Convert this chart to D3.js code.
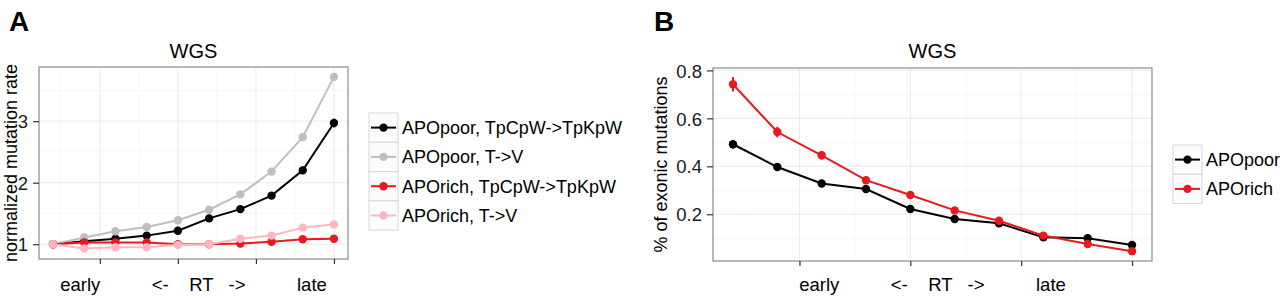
<!DOCTYPE html>
<html>
<head>
<meta charset="utf-8">
<script src="https://cdn.jsdelivr.net/npm/d3@7"></script>
<style>
  body { margin: 0; background: #fff; }
  svg { font-family: "Liberation Sans", Arial, Helvetica, sans-serif; }
</style>
</head>
<body>
<svg id="chart" width="1280" height="298"></svg>
<script>
// replication timing bins, early (1) -> late (10)
const rtBins = [1, 2, 3, 4, 5, 6, 7, 8, 9, 10];

// panel A: normalized mutation rate
const poorTpc = [1.00, 1.05, 1.09, 1.14, 1.22, 1.42, 1.57, 1.79, 2.20, 2.97];
const poorTpcErr = [0.01, 0.02, 0.02, 0.02, 0.03, 0.04, 0.04, 0.05, 0.06, 0.07];
const poorTV = [1.00, 1.11, 1.21, 1.28, 1.39, 1.56, 1.81, 2.18, 2.74, 3.72];
const poorTVErr = [0.01, 0.01, 0.01, 0.01, 0.01, 0.01, 0.02, 0.02, 0.02, 0.03];
const richTpc = [1.00, 1.03, 1.03, 1.03, 1.00, 1.00, 1.01, 1.04, 1.08, 1.09];
const richTpcErr = [0.01, 0.02, 0.02, 0.02, 0.02, 0.02, 0.02, 0.02, 0.02, 0.03];
const richTV = [1.00, 0.93, 0.95, 0.95, 0.99, 1.00, 1.09, 1.14, 1.27, 1.32];
const richTVErr = [0.01, 0.01, 0.01, 0.01, 0.01, 0.01, 0.01, 0.01, 0.02, 0.02];
const seriesA = ["APOpoor, TpCpW->TpKpW", "APOpoor, T->V", "APOrich, TpCpW->TpKpW", "APOrich, T->V"];
const yTicksA = [1, 2, 3];

// panel B: % of exonic mutations
const exPoor = [0.492, 0.397, 0.328, 0.305, 0.222, 0.180, 0.162, 0.104, 0.100, 0.072];
const exPoorErr = [0.018, 0.012, 0.010, 0.010, 0.009, 0.008, 0.008, 0.007, 0.007, 0.006];
const exRich = [0.742, 0.543, 0.446, 0.342, 0.280, 0.216, 0.173, 0.111, 0.076, 0.046];
const exRichErr = [0.030, 0.022, 0.018, 0.014, 0.010, 0.009, 0.008, 0.007, 0.006, 0.005];
const seriesB = ["APOpoor", "APOrich"];
const yTicksB = [0.2, 0.4, 0.6, 0.8];

const xTicks = [2.5, 5, 7.5, 10];
const xTitle = "early          <-    RT   ->          late";

const svg = d3.select("#chart");
const colors = { black: "#000000", grey: "#bebebe", red: "#e8191f", pink: "#ffb6c1" };

function drawPanel(cfg) {
  const x = d3.scaleLinear().domain([0.55, 10.45]).range([cfg.left, cfg.right]);
  const y = d3.scaleLinear().domain(cfg.yDomain).range([cfg.bottom, cfg.top]);
  const g = svg.append("g");

  // grid
  const minorX = xTicks.map(d => d - 1.25);
  const minorY = cfg.yMinor;
  g.selectAll(".mx").data(minorX).enter().append("line")
    .attr("x1", d => x(d)).attr("x2", d => x(d)).attr("y1", cfg.top).attr("y2", cfg.bottom)
    .attr("stroke", "#f7f7f7").attr("stroke-width", 1);
  g.selectAll(".my").data(minorY).enter().append("line")
    .attr("x1", cfg.left).attr("x2", cfg.right).attr("y1", d => y(d)).attr("y2", d => y(d))
    .attr("stroke", "#f7f7f7").attr("stroke-width", 1);
  g.selectAll(".gx").data(xTicks).enter().append("line")
    .attr("x1", d => x(d)).attr("x2", d => x(d)).attr("y1", cfg.top).attr("y2", cfg.bottom)
    .attr("stroke", "#ebebeb").attr("stroke-width", 1);
  g.selectAll(".gy").data(cfg.yTicks).enter().append("line")
    .attr("x1", cfg.left).attr("x2", cfg.right).attr("y1", d => y(d)).attr("y2", d => y(d))
    .attr("stroke", "#ebebeb").attr("stroke-width", 1);

  // series
  cfg.series.forEach(s => {
    const pts = rtBins.map((b, i) => ({ b: b, v: s.values[i], e: s.err[i] }));
    g.append("path").datum(pts)
      .attr("fill", "none").attr("stroke", s.color).attr("stroke-width", 2)
      .attr("d", d3.line().x(d => x(d.b)).y(d => y(d.v)));
    g.selectAll(null).data(pts).enter().append("line")
      .attr("x1", d => x(d.b)).attr("x2", d => x(d.b))
      .attr("y1", d => y(d.v - d.e)).attr("y2", d => y(d.v + d.e))
      .attr("stroke", s.color).attr("stroke-width", 2);
    g.selectAll(null).data(pts).enter().append("circle")
      .attr("cx", d => x(d.b)).attr("cy", d => y(d.v)).attr("r", 4.2)
      .attr("fill", s.color);
  });

  // border
  g.append("rect").attr("x", cfg.left).attr("y", cfg.top)
    .attr("width", cfg.right - cfg.left).attr("height", cfg.bottom - cfg.top)
    .attr("fill", "none").attr("stroke", "#8c8c8c").attr("stroke-width", 1.2);

  // axes
  const ax = g.append("g").attr("transform", "translate(0," + cfg.bottom + ")")
    .call(d3.axisBottom(x).tickValues(xTicks).tickFormat("").tickSize(5).tickSizeOuter(0));
  ax.select(".domain").remove();
  ax.selectAll(".tick line").attr("stroke", "#333").attr("stroke-width", 1.2);

  const ay = g.append("g").attr("transform", "translate(" + cfg.left + ",0)")
    .call(d3.axisLeft(y).tickValues(cfg.yTicks).tickFormat(cfg.fmt).tickSize(6).tickPadding(5).tickSizeOuter(0));
  ay.select(".domain").remove();
  ay.selectAll(".tick line").attr("stroke", "#333").attr("stroke-width", 1.2);
  ay.selectAll(".tick text").attr("font-size", 18.5).attr("fill", "#1a1a1a")
    .attr("font-family", "'Liberation Sans', Arial, sans-serif").attr("dy", "0.36em");

  // titles
  g.append("text").attr("x", (cfg.left + cfg.right) / 2).attr("y", 58)
    .attr("text-anchor", "middle").attr("font-size", 20).text("WGS");
  g.append("text").attr("x", (cfg.left + cfg.right) / 2).attr("y", 291)
    .attr("text-anchor", "middle").attr("font-size", 18.5)
    .style("white-space", "pre").text(xTitle);
  g.append("text")
    .attr("transform", "translate(" + cfg.yTitleX + "," + (cfg.top + cfg.bottom) / 2 + ") rotate(-90)")
    .attr("text-anchor", "middle").attr("font-size", 18).text(cfg.yTitle);
  g.append("text").attr("x", cfg.tagX).attr("y", 31)
    .attr("font-size", 28).attr("font-weight", "bold").text(cfg.tag);

  // legend
  const lg = g.append("g").attr("transform", "translate(" + cfg.legX + "," + cfg.legY + ")");
  cfg.series.forEach((s, i) => {
    const row = lg.append("g").attr("transform", "translate(0," + i * 29.3 + ")");
    row.append("rect").attr("width", 29).attr("height", 29.3)
      .attr("fill", "#fcfcfc").attr("stroke", "#d6d6d6").attr("stroke-width", 1);
    row.append("line").attr("x1", 2).attr("x2", 27).attr("y1", 14.6).attr("y2", 14.6)
      .attr("stroke", s.color).attr("stroke-width", 2);
    row.append("circle").attr("cx", 14.5).attr("cy", 14.6).attr("r", 4.2).attr("fill", s.color);
    row.append("text").attr("x", 33).attr("y", 14.6).attr("dy", "0.36em")
      .attr("font-size", 18).text(s.name);
  });
}

drawPanel({
  tag: "A", tagX: 9,
  left: 39, right: 348, top: 67, bottom: 259,
  yDomain: [0.76, 3.88], yTicks: yTicksA, yMinor: [1.5, 2.5, 3.5],
  fmt: d3.format("d"),
  yTitle: "normalized mutation rate", yTitleX: 17,
  legX: 369, legY: 113,
  series: [
    { name: seriesA[0], values: poorTpc, err: poorTpcErr, color: colors.black },
    { name: seriesA[1], values: poorTV, err: poorTVErr, color: colors.grey },
    { name: seriesA[2], values: richTpc, err: richTpcErr, color: colors.red },
    { name: seriesA[3], values: richTV, err: richTVErr, color: colors.pink }
  ]
});

drawPanel({
  tag: "B", tagX: 654,
  left: 713, right: 1152, top: 68, bottom: 261,
  yDomain: [0.005, 0.81], yTicks: yTicksB, yMinor: [0.1, 0.3, 0.5, 0.7],
  fmt: d3.format(".1f"),
  yTitle: "% of exonic mutations", yTitleX: 667,
  legX: 1173, legY: 145,
  series: [
    { name: seriesB[0], values: exPoor, err: exPoorErr, color: colors.black },
    { name: seriesB[1], values: exRich, err: exRichErr, color: colors.red }
  ]
});
</script>
</body>
</html>
